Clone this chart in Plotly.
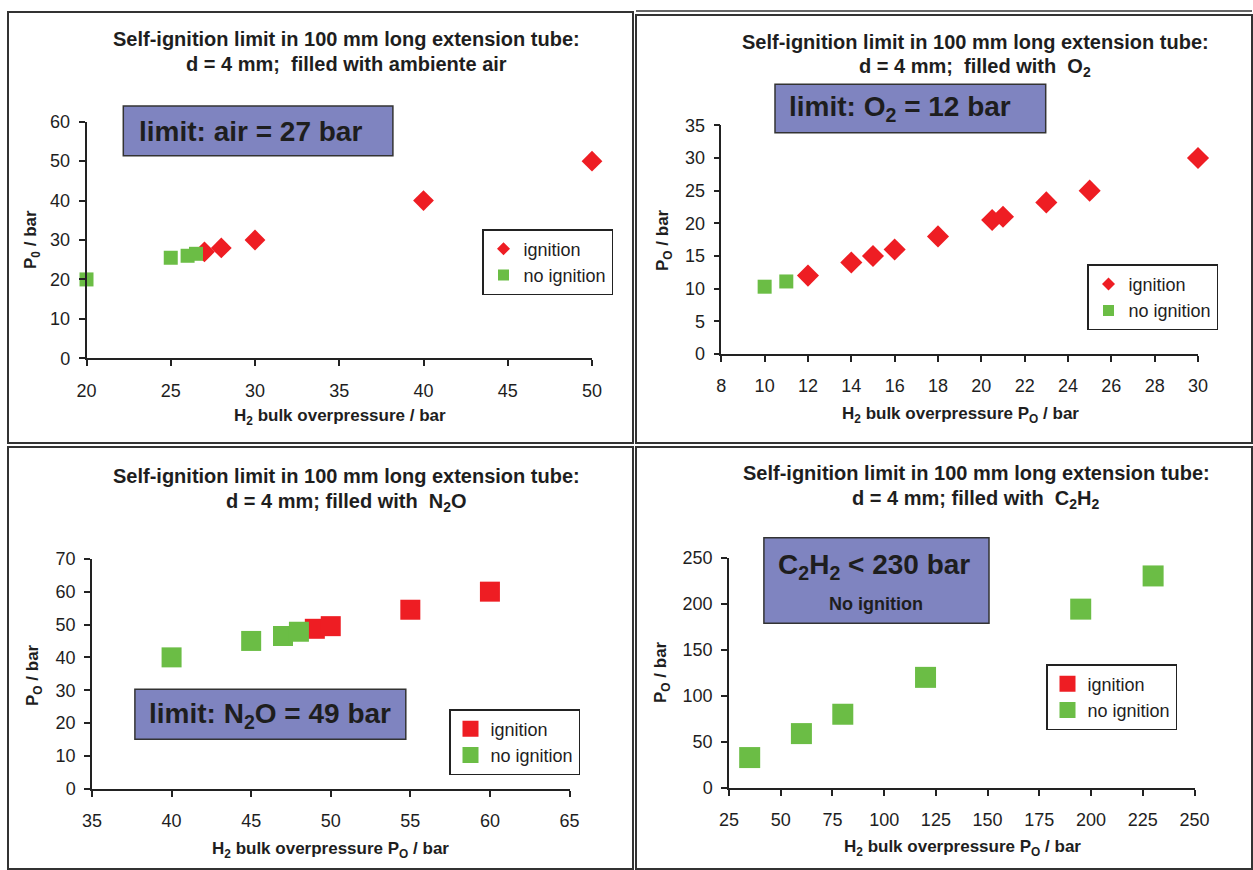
import plotly.graph_objects as go

W, H = 1253, 870

# ---------------- data ----------------
air_ign_x = [27, 28, 30, 40, 50]
air_ign_y = [27, 28, 30, 40, 50]
air_no_x = [20, 25, 26, 26.5]
air_no_y = [20, 25.5, 26, 26.5]

o2_ign_x = [12, 14, 15, 16, 18, 20.5, 21, 23, 25, 30]
o2_ign_y = [12, 14, 15, 16, 18, 20.5, 21, 23.2, 25, 30]
o2_no_x = [10, 11]
o2_no_y = [10.3, 11.1]

n2o_ign_x = [49, 50, 55, 60]
n2o_ign_y = [48.7, 49.5, 54.5, 60]
n2o_no_x = [40, 45, 47, 48]
n2o_no_y = [40, 45, 46.5, 47.8]

c2h2_ign_x = []
c2h2_ign_y = []
c2h2_no_x = [35, 60, 80, 120, 195, 230]
c2h2_no_y = [33, 59, 80, 120, 194, 230]

series_names = ["ignition", "no ignition"]

titles = [
    ("Self-ignition limit in 100 mm long extension tube:", "d = 4 mm;  filled with ambiente air"),
    ("Self-ignition limit in 100 mm long extension tube:", "d = 4 mm;  filled with  O<sub>2</sub>"),
    ("Self-ignition limit in 100 mm long extension tube:", "d = 4 mm; filled with  N<sub>2</sub>O"),
    ("Self-ignition limit in 100 mm long extension tube:", "d = 4 mm; filled with  C<sub>2</sub>H<sub>2</sub>"),
]
x_titles = [
    "H<sub>2</sub> bulk overpressure / bar",
    "H<sub>2</sub> bulk overpressure P<sub>O</sub> / bar",
    "H<sub>2</sub> bulk overpressure P<sub>O</sub> / bar",
    "H<sub>2</sub> bulk overpressure P<sub>O</sub> / bar",
]
y_titles = ["P<sub>0</sub> / bar", "P<sub>O</sub> / bar", "P<sub>O</sub> / bar", "P<sub>O</sub> / bar"]
box_texts = [
    "limit: air = 27 bar",
    "limit: O<sub>2</sub> = 12 bar",
    "limit: N<sub>2</sub>O = 49 bar",
    "C<sub>2</sub>H<sub>2</sub> &lt; 230 bar",
]
box_subtext = "No ignition"

x_ranges = [(20, 50, 5), (8, 30, 2), (35, 65, 5), (25, 250, 25)]
y_ranges = [(0, 60, 10), (0, 35, 5), (0, 70, 10), (0, 250, 50)]

# ---------------- styling / layout (pixels) ----------------
RED = "#EE1D23"
GREEN = "#6BBD45"
BOXFILL = "#7F84C0"
TXT = "#1e1e1e"
FONT = "Liberation Sans, Arial, sans-serif"


def px(x):
    return x / W


def py(y):
    return 1 - y / H


# plot areas: (x_left, x_right, y_top, y_bottom) in pixels
areas = [
    (86.5, 592.0, 121.7, 358.3),
    (721.3, 1198.0, 125.3, 354.0),
    (92.0, 569.5, 558.8, 788.8),
    (729.0, 1194.5, 557.5, 788.0),
]

fig = go.Figure()

panels = [
    (air_ign_x, air_ign_y, air_no_x, air_no_y, "diamond", 16, 14, 10, 11),
    (o2_ign_x, o2_ign_y, o2_no_x, o2_no_y, "diamond", 17, 14, 10, 11),
    (n2o_ign_x, n2o_ign_y, n2o_no_x, n2o_no_y, "square", 20, 20, 16, 16),
    (c2h2_ign_x, c2h2_ign_y, c2h2_no_x, c2h2_no_y, "square", 21, 21, 16, 16),
]

for i, (ix, iy, nx, ny, isym, isz, nsz, lisz, lnsz) in enumerate(panels):
    k = "" if i == 0 else str(i + 1)
    leg = "legend" + k
    fig.add_trace(go.Scatter(x=ix, y=iy, mode="markers", xaxis="x" + k, yaxis="y" + k,
                             marker=dict(symbol=isym, size=isz, color=RED, line=dict(width=0)),
                             cliponaxis=False, showlegend=False, name=series_names[0]))
    fig.add_trace(go.Scatter(x=nx, y=ny, mode="markers", xaxis="x" + k, yaxis="y" + k,
                             marker=dict(symbol="square", size=nsz, color=GREEN, line=dict(width=0)),
                             cliponaxis=False, showlegend=False, name=series_names[1]))
    # legend entries
    fig.add_trace(go.Scatter(x=[None], y=[None], mode="markers", xaxis="x" + k, yaxis="y" + k,
                             marker=dict(symbol=isym, size=lisz, color=RED), name=series_names[0],
                             legend=leg, showlegend=True))
    fig.add_trace(go.Scatter(x=[None], y=[None], mode="markers", xaxis="x" + k, yaxis="y" + k,
                             marker=dict(symbol="square", size=lnsz, color=GREEN), name=series_names[1],
                             legend=leg, showlegend=True))

layout = dict(
    width=W, height=H,
    margin=dict(l=0, r=0, t=0, b=0, pad=0, autoexpand=False),
    paper_bgcolor="white", plot_bgcolor="rgba(0,0,0,0)",
    font=dict(family=FONT, color=TXT),
)

for i, (xl, xr, yt, yb) in enumerate(areas):
    k = "" if i == 0 else str(i + 1)
    x0, x1, dx = x_ranges[i]
    y0, y1, dy = y_ranges[i]
    common = dict(showline=True, linecolor="#222", linewidth=1.5, ticks="outside", ticklen=6,
                  tickcolor="#222", tickwidth=1.5, showgrid=False, zeroline=False, automargin=False,
                  tickfont=dict(size=18, family=FONT, color=TXT), fixedrange=True)
    layout["xaxis" + k] = dict(domain=[px(xl), px(xr)], range=[x0, x1], dtick=dx, tick0=x0,
                               anchor="y" + k, ticklabelstandoff=9, **common)
    layout["yaxis" + k] = dict(domain=[py(yb), py(yt)], range=[y0, y1], dtick=dy, tick0=y0,
                               anchor="x" + k, ticklabelstandoff=5, **common)

legend_pos = [(482, 229), (1087, 264.3), (449, 709), (1046, 664)]
for i, (lx, ly) in enumerate(legend_pos):
    k = "" if i == 0 else str(i + 1)
    layout["legend" + k] = dict(x=px(lx), y=py(ly), xanchor="left", yanchor="top",
                                bgcolor="white", bordercolor="#222", borderwidth=1.5,
                                font=dict(size=18, family=FONT, color=TXT),
                                itemsizing="trace", tracegroupgap=0)

fig.update_layout(**layout)

# panel frames
frames = [(8, 633, 12, 443), (636, 1252, 15, 443), (8, 633, 447, 869), (636, 1252, 447, 869)]
for (a, b, c, d) in frames:
    fig.add_shape(type="rect", xref="paper", yref="paper", x0=px(a), x1=px(b), y0=py(d), y1=py(c),
                  line=dict(color="#333", width=2), fillcolor="rgba(0,0,0,0)", layer="below")
fig.add_shape(type="line", xref="paper", yref="paper", x0=px(636), x1=px(1252), y0=py(11), y1=py(11),
              line=dict(color="#333", width=1.5))

# titles
title_pos = [(346, 39, 64), (975, 42, 68), (346, 476, 502), (976, 473, 500)]
for i, (cx, y1_, y2_) in enumerate(title_pos):
    for txt, yy in zip(titles[i], (y1_, y2_)):
        fig.add_annotation(xref="paper", yref="paper", x=px(cx), y=py(yy), text="<b>" + txt + "</b>",
                           showarrow=False, xanchor="center", yanchor="middle",
                           font=dict(size=20, family=FONT, color=TXT))

# axis titles
xt_pos = [(340, 417), (960, 415), (330, 850), (962, 848)]
yt_pos = [(32, 240), (664, 240), (34, 675), (662, 672)]
for i in range(4):
    fig.add_annotation(xref="paper", yref="paper", x=px(xt_pos[i][0]), y=py(xt_pos[i][1]),
                       text="<b>" + x_titles[i] + "</b>", showarrow=False,
                       xanchor="center", yanchor="middle", font=dict(size=17, family=FONT, color=TXT))
    fig.add_annotation(xref="paper", yref="paper", x=px(yt_pos[i][0]), y=py(yt_pos[i][1]),
                       text="<b>" + y_titles[i] + "</b>", showarrow=False, textangle=-90,
                       xanchor="center", yanchor="middle", font=dict(size=17, family=FONT, color=TXT))

# limit boxes
boxes = [(123.3, 392.9, 106, 155.7), (775, 1045.7, 84.3, 132.7), (134.9, 405.8, 689.3, 739.3),
         (763.9, 989, 537.7, 623.3)]
for (a, b, c, d) in boxes:
    fig.add_shape(type="rect", xref="paper", yref="paper", x0=px(a), x1=px(b), y0=py(d), y1=py(c),
                  line=dict(color="#333", width=1.5), fillcolor=BOXFILL, layer="below")

box_text_pos = [(250, 131), (900, 109), (270, 715), (874, 566)]
for i, (cx, cy) in enumerate(box_text_pos):
    fig.add_annotation(xref="paper", yref="paper", x=px(cx), y=py(cy), text="<b>" + box_texts[i] + "</b>",
                       showarrow=False, xanchor="center", yanchor="middle",
                       font=dict(size=28, family=FONT, color=TXT))
fig.add_annotation(xref="paper", yref="paper", x=px(876), y=py(604), text="<b>" + box_subtext + "</b>",
                   showarrow=False, xanchor="center", yanchor="middle",
                   font=dict(size=18, family=FONT, color=TXT))

fig.write_html("out.html", config={"displayModeBar": False},
               post_script="document.body.style.margin='0';document.body.style.padding='0';")
